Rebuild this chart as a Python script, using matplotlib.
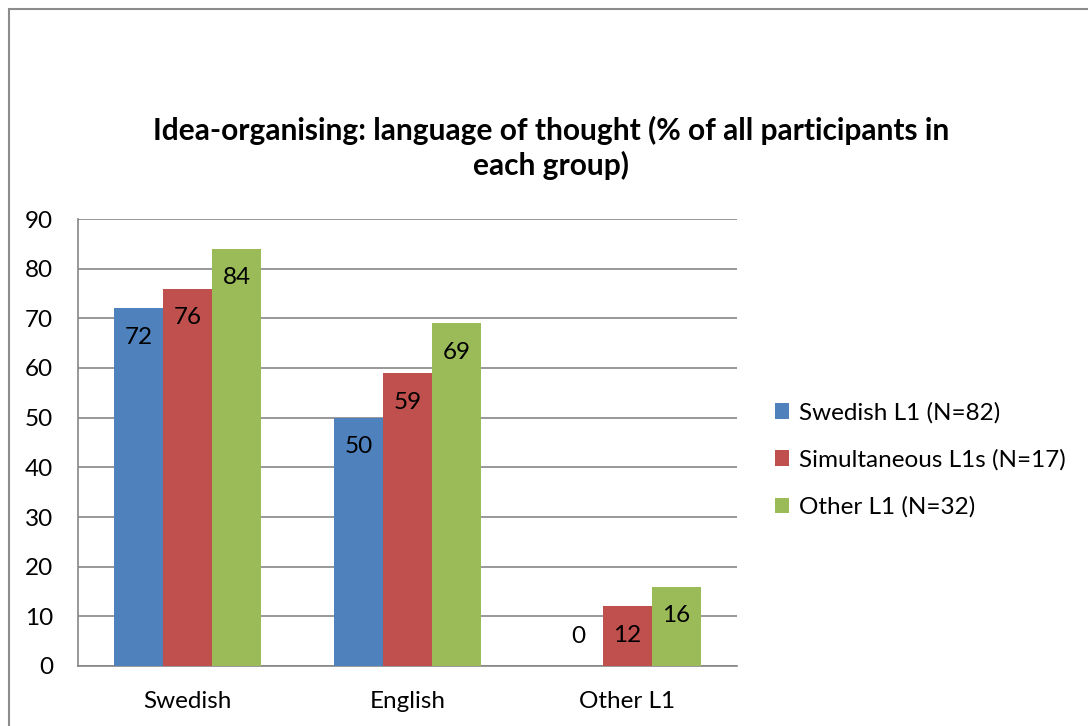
import matplotlib
matplotlib.use("Agg")
import matplotlib.pyplot as plt
from matplotlib.patches import Rectangle
import numpy as np

categories = ["Swedish", "English", "Other L1"]
series_names = ["Swedish L1 (N=82)", "Simultaneous L1s (N=17)", "Other L1 (N=32)"]
swedish_l1 = [72, 50, 0]
simultaneous_l1s = [76, 59, 12]
other_l1 = [84, 69, 16]
series_values = [swedish_l1, simultaneous_l1s, other_l1]
colors = ["#4F81BD", "#C0504D", "#9BBB59"]
title = "Idea-organising: language of thought (% of all participants in\neach group)"

plt.rcParams['font.family'] = ['Lato', 'DejaVu Sans']

W, H = 1088, 726
fig = plt.figure(figsize=(W / 100, H / 100), dpi=100)
fig.patch.set_facecolor("white")

# outer chart border
fig.patches.append(Rectangle((8.5 / W, -0.1), 2.0, (H - 8.5) / H + 0.1,
                             transform=fig.transFigure, fill=False,
                             edgecolor="#8C8C8C", linewidth=1.5))

left, right, top, bottom = 78, 737, 219, 666
ax = fig.add_axes([left / W, (H - bottom) / H, (right - left) / W, (bottom - top) / H])

FS = 17.5
x = np.arange(len(categories))
bw = 0.223
for i, (vals, c, name) in enumerate(zip(series_values, colors, series_names)):
    pos = x + (i - 1) * bw
    ax.bar(pos, vals, width=bw, color=c, label=name, zorder=3)
    for p, v in zip(pos, vals):
        if v > 8:
            ax.annotate(str(v), (p, v), xytext=(0, -21), textcoords="offset points",
                        ha="center", va="center", fontsize=FS, zorder=4)
        else:
            ax.annotate(str(v), (p, 0), xytext=(0, 21), textcoords="offset points",
                        ha="center", va="center", fontsize=FS, zorder=4)

ax.set_xlim(-0.5, 2.5)
ax.set_ylim(0, 90)
ax.set_yticks(range(0, 91, 10))
ax.set_xticks(x)
ax.set_xticklabels(categories)
ax.tick_params(axis="both", length=0, labelsize=FS)
ax.tick_params(axis="x", pad=18)
ax.tick_params(axis="y", pad=18)
ax.grid(axis="y", color="#868686", linewidth=1.2, zorder=0)
for s in ["top", "right"]:
    ax.spines[s].set_visible(False)
for s in ["left", "bottom"]:
    ax.spines[s].set_color("#868686")
    ax.spines[s].set_linewidth(1.2)

fig.text(551 / W, 1 - 148 / H, title, ha="center", va="center",
         fontsize=21.5, fontweight="bold", linespacing=1.25)

leg = ax.legend(loc="center left", bbox_to_anchor=(753 / W, 1 - 460 / H),
                bbox_transform=fig.transFigure, frameon=False, fontsize=FS,
                handlelength=0.6, handleheight=0.6, handletextpad=0.4,
                labelspacing=1.05)

fig.savefig("out.png", dpi=100)
